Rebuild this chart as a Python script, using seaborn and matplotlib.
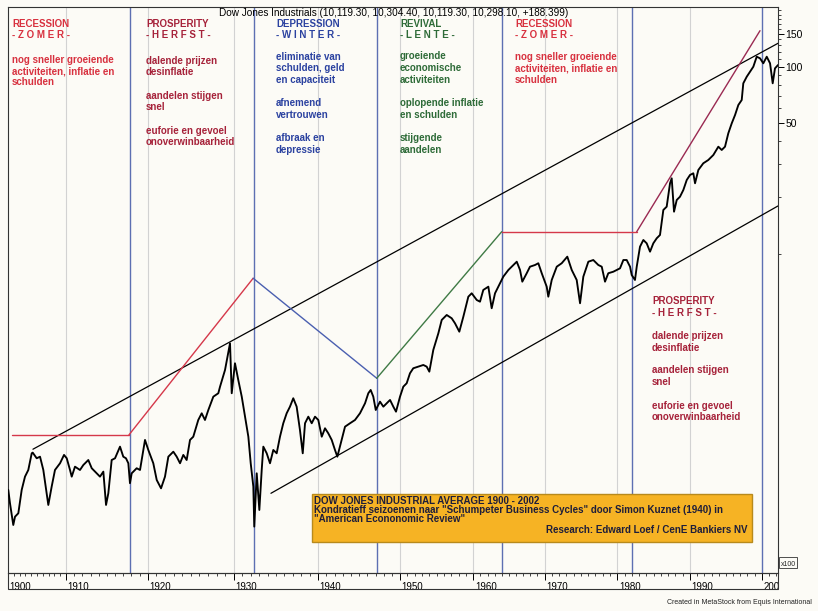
import numpy as np
import pandas as pd
import matplotlib
matplotlib.use("Agg")
import matplotlib.pyplot as plt
import seaborn as sns
from matplotlib.ticker import FixedLocator, FixedFormatter, NullFormatter
from matplotlib.transforms import ScaledTranslation
from matplotlib.patches import Rectangle

# ---------------- data (DJIA, in hundreds of points) ----------------
YEARS = [
    1900.05, 1900.34, 1900.91, 1901.21, 1901.78, 1902.36, 1902.93, 1903.50, 1904.09, 1904.26,
    1904.95, 1905.52, 1906.09, 1906.67, 1906.95, 1907.53, 1908.10, 1908.97, 1909.66, 1910.09,
    1910.49, 1910.70, 1911.10, 1911.71, 1912.12, 1912.73, 1913.15, 1913.76, 1914.16, 1914.57,
    1914.90, 1915.18, 1915.59, 1916.00, 1916.61, 1917.01, 1917.34, 1917.63, 1917.83, 1918.04,
    1918.65, 1919.06, 1919.67, 1920.07, 1920.65, 1921.05, 1921.55, 1922.01, 1922.40, 1922.98,
    1923.37, 1923.76, 1924.14, 1924.53, 1924.92, 1925.30, 1925.88, 1926.28, 1926.66, 1927.05,
    1927.63, 1928.21, 1928.41, 1928.99, 1929.57, 1929.77, 1930.15, 1930.54, 1930.95, 1931.34,
    1931.73, 1932.01, 1932.32, 1932.43, 1932.72, 1933.03, 1933.31, 1933.50, 1933.90, 1934.29,
    1934.68, 1935.08, 1935.47, 1935.86, 1936.26, 1936.65, 1937.04, 1937.44, 1937.83, 1938.16,
    1938.43, 1938.82, 1939.22, 1939.61, 1940.00, 1940.42, 1940.82, 1941.22, 1941.64, 1942.04,
    1942.33, 1942.86, 1943.27, 1943.88, 1944.49, 1945.10, 1945.72, 1946.12, 1946.41, 1946.73,
    1947.03, 1947.55, 1947.96, 1948.37, 1948.78, 1949.18, 1949.51, 1950.00, 1950.45, 1950.91,
    1951.36, 1951.81, 1952.50, 1953.18, 1953.64, 1954.00, 1954.54, 1955.23, 1955.69, 1956.37,
    1957.05, 1957.50, 1958.09, 1958.64, 1959.32, 1959.78, 1960.48, 1960.94, 1961.40, 1962.11,
    1962.58, 1963.05, 1963.75, 1964.21, 1964.92, 1965.39, 1966.10, 1966.56, 1966.88, 1967.50,
    1967.96, 1968.67, 1969.13, 1969.61, 1970.30, 1970.52, 1970.99, 1971.68, 1972.36, 1973.13,
    1973.74, 1974.42, 1974.88, 1975.33, 1976.02, 1976.70, 1977.39, 1977.86, 1978.31, 1978.76,
    1979.45, 1980.37, 1980.83, 1981.29, 1981.75, 1981.98, 1982.43, 1982.67, 1983.12, 1983.58,
    1984.04, 1984.50, 1984.95, 1985.42, 1985.87, 1986.33, 1986.79, 1987.25, 1987.48, 1987.80,
    1988.17, 1988.62, 1989.08, 1989.55, 1990.00, 1990.46, 1990.70, 1991.16, 1991.85, 1992.55,
    1993.25, 1993.95, 1994.42, 1994.88, 1995.34, 1995.82, 1996.28, 1996.74, 1997.21, 1997.43,
    1997.91, 1998.37, 1998.83, 1999.30, 1999.76, 2000.22, 2000.70, 2001.16, 2001.53, 2001.85,
    2002.27,
]
DJIA = [
    0.545, 0.463, 0.354, 0.392, 0.409, 0.545, 0.642, 0.697, 0.856, 0.863,
    0.805, 0.821, 0.697, 0.523, 0.453, 0.568, 0.697, 0.757, 0.839, 0.805,
    0.697, 0.642, 0.726, 0.697, 0.741, 0.788, 0.712, 0.669, 0.642, 0.683,
    0.453, 0.523, 0.788, 0.805, 0.929, 0.821, 0.805, 0.757, 0.592, 0.669,
    0.712, 0.697, 1.009, 0.892, 0.757, 0.616, 0.556, 0.642, 0.821, 0.873,
    0.821, 0.757, 0.839, 0.788, 1.009, 1.050, 1.290, 1.401, 1.290, 1.459,
    1.719, 1.793, 1.944, 2.388, 3.318, 1.793, 2.594, 2.112, 1.719, 1.344,
    1.050, 0.757, 0.568, 0.347, 0.669, 0.426, 0.697, 0.929, 0.856, 0.757,
    0.892, 0.856, 1.050, 1.239, 1.401, 1.520, 1.686, 1.520, 1.141, 0.856,
    1.239, 1.344, 1.239, 1.344, 1.290, 1.050, 1.165, 1.095, 1.009, 0.892,
    0.821, 1.009, 1.188, 1.239, 1.290, 1.401, 1.585, 1.793, 1.867, 1.719,
    1.459, 1.617, 1.520, 1.585, 1.651, 1.520, 1.429, 1.719, 1.944, 2.028,
    2.293, 2.439, 2.488, 2.540, 2.488, 2.339, 3.055, 3.752, 4.421, 4.701,
    4.514, 4.245, 3.827, 4.604, 5.888, 6.141, 5.654, 5.537, 6.396, 6.661,
    5.106, 6.141, 6.946, 7.534, 8.18, 8.52, 9.06, 8.18, 7.085, 7.86,
    8.52, 8.70, 8.89, 7.86, 6.661, 5.888, 7.234, 8.52, 8.89, 9.64,
    8.18, 7.234, 5.43, 7.534, 9.06, 9.25, 8.70, 8.52, 7.085, 7.86,
    8.01, 8.35, 9.25, 9.25, 8.52, 7.69, 7.234, 8.52, 10.9, 11.84,
    11.36, 10.25, 11.36, 12.09, 12.59, 17.13, 17.84, 23.8, 25.3, 16.77,
    19.37, 20.17, 21.91, 24.79, 26.36, 26.92, 23.8, 28.03, 30.44, 31.70,
    33.71, 37.35, 35.86, 37.35, 44.05, 49.82, 55.17, 62.41, 66.36, 81.5,
    88.4, 94.0, 100.0, 113.1, 110.9, 104.3, 113.1, 104.3, 81.5, 98.0,
    102.1,
]

DECADES = [1900, 1910, 1920, 1930, 1940, 1950, 1960, 1970, 1980, 1990, 2000]
DECADE_LABELS = ["1900", "1910", "1920", "1930", "1940", "1950", "1960",
                 "1970", "1980", "1990", "200"]
Y_TICKS = [50, 100, 150]
Y_TICK_LABELS = ["50", "100", "150"]
Y_MINOR = [10, 20, 30, 40, 60, 70, 80, 90, 110, 120, 130, 140, 160, 170, 180, 190, 200]

SEASON_BOUNDS = [1917.8, 1932.4, 1947.15, 1964.0, 1982.0, 2000.0]

UPPER_CHANNEL_X = [1904.3, 2002.27]
UPPER_CHANNEL_Y = [0.90, 133.4]
LOWER_CHANNEL_X = [1934.4, 2002.27]
LOWER_CHANNEL_Y = [0.523, 18.0]

WAVE_X = [1900.7, 1917.7, 1932.3, 1947.15, 1963.99, 1982.67, 1999.76]
WAVE_Y = [1.073, 1.073, 7.39, 2.157, 13.11, 13.11, 155.8]
WAVE_COLORS = ["#d5384a", "#d5384a", "#4a5fb0", "#3f7a45", "#d5384a", "#9a2a52"]

TITLE = "Dow Jones Industrials (10,119.30, 10,304.40, 10,119.30, 10,298.10, +188.399)"

# ---------------- layout ----------------
W, H = 818, 611
# MetaStock time axis: pixel position of each decade label
AXIS_YEARS = [1890, 1900, 1910, 1920, 1930, 1940, 1950, 1960, 1970, 1980, 1990, 2000, 2010]
AXIS_PX = [-50, 8, 66, 147.7, 233.7, 318.3, 400, 473.3, 544.5, 617.3, 690, 761.7, 833.4]

def fwd(x):
    return np.interp(x, AXIS_YEARS, AXIS_PX)

def inv(p):
    return np.interp(p, AXIS_PX, AXIS_YEARS)

def fx(x):
    return x / W

def fy(y):
    return 1 - y / H

sns.set_theme(style="white")
plt.rcParams["font.family"] = ["Liberation Sans", "DejaVu Sans"]

PAPER = "#fcfbf6"
fig = plt.figure(figsize=(W / 100, H / 100), dpi=100, facecolor=PAPER)
ax = fig.add_axes([fx(8), fy(573), (778 - 8) / W, (573 - 7) / H])
ax.set_facecolor(PAPER)

df = pd.DataFrame({"year": YEARS, "djia": DJIA})
sns.lineplot(data=df, x="year", y="djia", ax=ax, color="black", lw=1.35,
             estimator=None, sort=False, zorder=4)

ax.set_xscale("function", functions=(fwd, inv))
ax.set_yscale("log")
ax.set_xlim(1900, 2002.27)
ax.set_ylim(0.196, 208.6)
ax.set_xlabel("")
ax.set_ylabel("")

# grid lines at decades
for d in DECADES[1:-1]:
    ax.axvline(d, color="#d2d2d2", lw=0.8, zorder=1)
# season boundaries
for s in SEASON_BOUNDS:
    ax.axvline(s, color="#5d6fb2", lw=1.0, zorder=2)

# channel lines
ax.plot(UPPER_CHANNEL_X, UPPER_CHANNEL_Y, color="black", lw=0.9, zorder=3)
ax.plot(LOWER_CHANNEL_X, LOWER_CHANNEL_Y, color="black", lw=0.9, zorder=3)

# Kondratieff wave
for i in range(len(WAVE_X) - 1):
    ax.plot(WAVE_X[i:i + 2], WAVE_Y[i:i + 2], color=WAVE_COLORS[i], lw=1.0, zorder=3)

# axes ticks
ax.xaxis.set_major_locator(FixedLocator(DECADES))
ax.xaxis.set_major_formatter(FixedFormatter(DECADE_LABELS))
ax.xaxis.set_minor_locator(FixedLocator(list(range(1901, 2003))))
ax.tick_params(axis="x", which="major", direction="out", length=5, width=0.7,
               pad=1.5, labelsize=7, colors="black", bottom=True)
ax.tick_params(axis="x", which="minor", direction="out", length=2.5, width=0.6,
               bottom=True)
for lab in ax.get_xticklabels():
    lab.set_horizontalalignment("left")
    lab.set_transform(lab.get_transform() + ScaledTranslation(1.5 / 100, 0, fig.dpi_scale_trans))

ax.yaxis.tick_right()
ax.yaxis.set_major_locator(FixedLocator(Y_TICKS))
ax.yaxis.set_major_formatter(FixedFormatter(Y_TICK_LABELS))
ax.yaxis.set_minor_locator(FixedLocator(Y_MINOR))
ax.yaxis.set_minor_formatter(NullFormatter())
ax.tick_params(axis="y", which="major", direction="out", length=4, width=0.7,
               pad=1.5, labelsize=7.5, colors="black", right=True, left=False)
ax.tick_params(axis="y", which="minor", direction="out", length=2, width=0.6,
               right=True, left=False)

for sp in ax.spines.values():
    sp.set_color("#333333")
    sp.set_linewidth(0.8)

# label strip frame below the plot
fig.add_artist(Rectangle((fx(8), fy(589)), (778 - 8) / W, (589 - 573) / H,
                         transform=fig.transFigure, fill=False, ec="#333333", lw=0.8))
# x100 box
fig.add_artist(Rectangle((fx(779), fy(568)), 18 / W, 11 / H,
                         transform=fig.transFigure, fill=False, ec="#333333", lw=0.6))
fig.text(fx(788), fy(565.5), "x100", fontsize=5, ha="center", va="baseline")

# title
fig.text(fx(393.5), fy(16.3), TITLE, fontsize=7.2, ha="center", va="baseline",
         color="black", zorder=4)

# season blocks
BLOCKS = [
    (12, "#d8313f", [(24, "RECESSION"), (35, "- Z O M E R -"), (60, "nog sneller groeiende"),
                     (71, "activiteiten, inflatie en"), (82, "schulden")]),
    (146, "#a6223a", [(24, "PROSPERITY"), (35, "- H E R F S T -"), (61, "dalende prijzen"),
                      (72, "desinflatie"), (96, "aandelen stijgen"), (107, "snel"),
                      (131, "euforie en gevoel"), (142, "onoverwinbaarheid")]),
    (276, "#2b42a0", [(23.5, "DEPRESSION"), (35, "- W I N T E R -"), (57, "eliminatie van"),
                      (68, "schulden, geld"), (80, "en capaciteit"), (103, "afnemend"),
                      (115, "vertrouwen"), (138, "afbraak en"), (150, "depressie")]),
    (400, "#2e6b38", [(23.5, "REVIVAL"), (35, "- L E N T E -"), (56, "groeiende"),
                      (68, "economische"), (80, "activiteiten"), (103, "oplopende inflatie"),
                      (115, "en schulden"), (138, "stijgende"), (150, "aandelen")]),
    (515, "#d8313f", [(23.5, "RECESSION"), (35, "- Z O M E R -"), (57, "nog sneller groeiende"),
                      (68, "activiteiten, inflatie en"), (80, "schulden")]),
    (652, "#a6223a", [(301, "PROSPERITY"), (313, "- H E R F S T -"), (336, "dalende prijzen"),
                      (348, "desinflatie"), (370, "aandelen stijgen"), (382, "snel"),
                      (406, "euforie en gevoel"), (417, "onoverwinbaarheid")]),
]
for x0, col, lines in BLOCKS:
    for yc, txt in lines:
        fig.text(fx(x0), fy(yc + 3.3), txt, fontsize=7, fontweight="bold", color=col,
                 ha="left", va="baseline", zorder=4)

# orange info box
fig.add_artist(Rectangle((fx(312), fy(542)), (752 - 312) / W, (542 - 494) / H,
                         transform=fig.transFigure, fc="#f6b324", ec="#b88a1c", lw=1.0,
                         zorder=5))
BOX_TXT = "#1e1e3a"
fig.text(fx(314), fy(503.8), "DOW JONES INDUSTRIAL AVERAGE 1900 - 2002", fontsize=7,
         fontweight="bold", color=BOX_TXT, ha="left", va="baseline", zorder=6)
fig.text(fx(314), fy(513.2), 'Kondratieff seizoenen naar "Schumpeter Business Cycles" door Simon Kuznet (1940) in',
         fontsize=7, fontweight="bold", color=BOX_TXT, ha="left", va="baseline", zorder=6)
fig.text(fx(314), fy(522.5), '"American Econonomic Review"', fontsize=7,
         fontweight="bold", color=BOX_TXT, ha="left", va="baseline", zorder=6)
fig.text(fx(748), fy(533.2), "Research: Edward Loef / CenE Bankiers NV", fontsize=7,
         fontweight="bold", color=BOX_TXT, ha="right", va="baseline", zorder=6)

fig.text(fx(812), fy(604.5), "Created in MetaStock from Equis International", fontsize=5,
         color="#222222", ha="right", va="baseline")

fig.savefig("out.png", dpi=100, facecolor=PAPER)
